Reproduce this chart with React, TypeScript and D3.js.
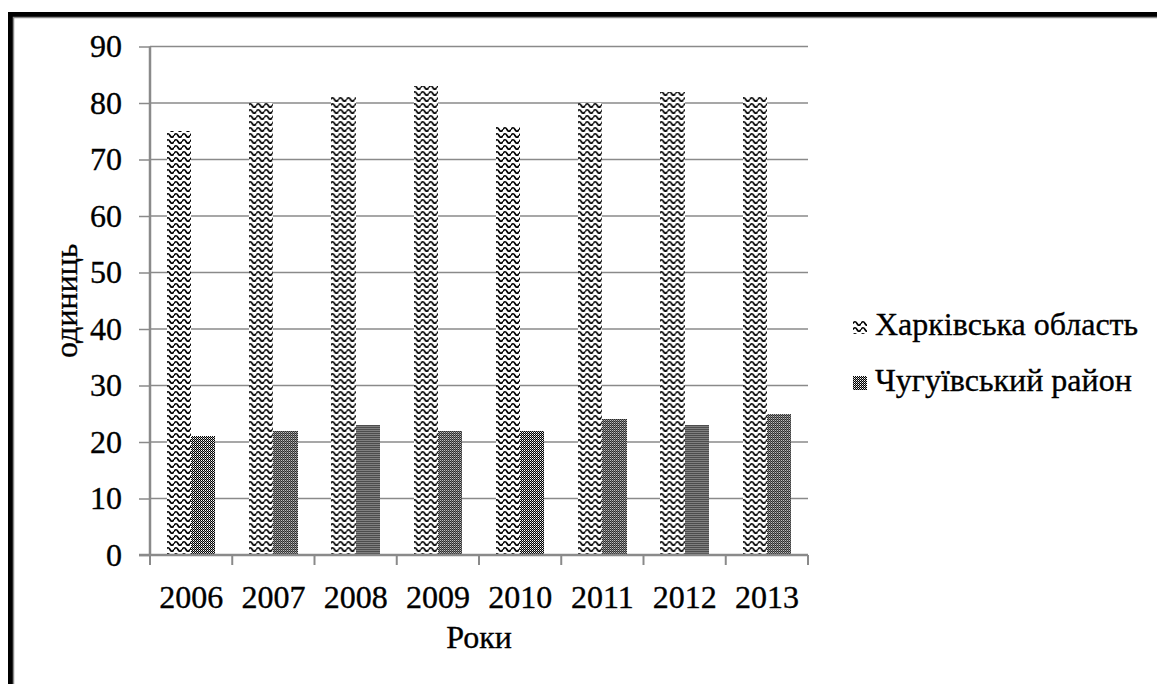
import React, { useEffect, useRef } from 'react';
import * as d3 from 'd3';

const years = ['2006', '2007', '2008', '2009', '2010', '2011', '2012', '2013'];
const seriesNames = ['Харківська область', 'Чугуївський район'];
const kharkivValues = [75, 80, 81, 83, 76, 80, 82, 81];
const chuhuivValues = [21, 22, 23, 22, 22, 24, 23, 25];
const yTicks = [0, 10, 20, 30, 40, 50, 60, 70, 80, 90];

const W = 1157;
const H = 684;
const FONT = "'Liberation Serif', 'DejaVu Serif', serif";

const App = () => {
    const ref = useRef<SVGSVGElement>(null);

    useEffect(() => {
        const margin = { top: 46.5, right: 349, bottom: 129, left: 150 };
        const svg = d3.select(ref.current);
        svg.selectAll('*').remove();

        // patterns
        const defs = svg.append('defs');
        const wave = defs.append('pattern')
            .attr('id', 'wave')
            .attr('patternUnits', 'userSpaceOnUse')
            .attr('width', 8)
            .attr('height', 6);
        wave.append('rect').attr('width', 8).attr('height', 6).attr('fill', 'white');
        wave.append('path')
            .attr('d', 'M0,3.5 Q2,0 4,3.5 T8,3.5')
            .attr('fill', 'none')
            .attr('stroke', 'black')
            .attr('stroke-width', 1.7);

        const check = defs.append('pattern')
            .attr('id', 'check')
            .attr('patternUnits', 'userSpaceOnUse')
            .attr('width', 2)
            .attr('height', 2);
        check.append('rect').attr('width', 2).attr('height', 2).attr('fill', 'black');
        check.append('rect').attr('x', 1).attr('width', 1).attr('height', 1).attr('fill', 'white');
        check.append('rect').attr('y', 1).attr('width', 1).attr('height', 1).attr('fill', '#9a9a9a');

        const fills = ['url(#wave)', 'url(#check)'];

        // frame
        svg.append('rect')
            .attr('x', 10.5).attr('y', 14.5)
            .attr('width', W + 20).attr('height', H + 20)
            .attr('fill', 'none').attr('stroke', 'black').attr('stroke-width', 5);
        svg.append('rect')
            .attr('x', 13.5).attr('y', 17.5)
            .attr('width', W + 20).attr('height', H + 20)
            .attr('fill', 'none').attr('stroke', '#8a8a8a').attr('stroke-width', 1.5);

        const x = d3.scaleBand()
            .domain(years)
            .range([margin.left, W - margin.right])
            .padding(0);

        const xs = d3.scaleBand()
            .domain(seriesNames)
            .range([0, x.bandwidth()])
            .paddingInner(0)
            .paddingOuter(0.7);

        const y = d3.scaleLinear()
            .domain([0, 90])
            .range([H - margin.bottom, margin.top]);

        // grid
        svg.append('g')
            .selectAll('line')
            .data(yTicks.filter((d) => d > 0))
            .join('line')
            .attr('x1', margin.left)
            .attr('x2', W - margin.right)
            .attr('y1', (d) => y(d))
            .attr('y2', (d) => y(d))
            .attr('stroke', '#8a8a8a')
            .attr('stroke-width', 1.5);

        // bars
        const data = years.map((yr, i) => ({ year: yr, values: [kharkivValues[i], chuhuivValues[i]] }));
        svg.append('g')
            .selectAll('g')
            .data(data)
            .join('g')
            .attr('transform', (d) => `translate(${x(d.year)},0)`)
            .selectAll('rect')
            .data((d) => d.values.map((v, k) => ({ name: seriesNames[k], v, k })))
            .join('rect')
            .attr('x', (d) => xs(d.name)!)
            .attr('width', xs.bandwidth())
            .attr('y', (d) => y(d.v))
            .attr('height', (d) => y(0) - y(d.v))
            .attr('fill', (d) => fills[d.k])
            .attr('shape-rendering', 'crispEdges');

        const textStyle = (sel: any, size: number) =>
            sel.attr('fill', 'black')
                .attr('stroke', 'black')
                .attr('stroke-width', 0.35)
                .attr('font-family', FONT)
                .attr('font-size', size);

        // y axis
        svg.append('g')
            .attr('transform', `translate(${margin.left},0)`)
            .call(d3.axisLeft(y).tickValues(yTicks).tickSize(11).tickPadding(17))
            .call((g) => g.select('.domain').attr('stroke', '#8a8a8a').attr('stroke-width', 2.5).attr('d', `M0,${y(90)}V${y(0)}`))
            .call((g) => g.selectAll('.tick line').attr('stroke', '#8a8a8a').attr('stroke-width', 1.5))
            .selectAll('text')
            .call(textStyle, 32);

        // x axis
        svg.append('g')
            .attr('transform', `translate(0,${y(0)})`)
            .call(d3.axisBottom(x).tickSize(0).tickPadding(30))
            .call((g) => g.select('.domain').attr('stroke', '#8a8a8a').attr('stroke-width', 2.5).attr('d', `M${margin.left - 11},0H${W - margin.right}`))
            .selectAll('text')
            .call(textStyle, 32);

        // x boundary ticks
        svg.append('g')
            .selectAll('line')
            .data(years.map((yr) => x(yr)!).concat([W - margin.right]))
            .join('line')
            .attr('x1', (d) => d)
            .attr('x2', (d) => d)
            .attr('y1', y(0))
            .attr('y2', y(0) + 10)
            .attr('stroke', '#8a8a8a')
            .attr('stroke-width', 2);

        // axis titles
        svg.append('text')
            .attr('x', (margin.left + W - margin.right) / 2)
            .attr('y', 648)
            .attr('text-anchor', 'middle')
            .call(textStyle, 32)
            .text('Роки');

        svg.append('text')
            .attr('transform', `translate(77,${(y(0) + y(90)) / 2}) rotate(-90)`)
            .attr('text-anchor', 'middle')
            .call(textStyle, 32)
            .text('одиниць');

        // legend
        const legend = svg.append('g')
            .selectAll('g')
            .data(seriesNames)
            .join('g')
            .attr('transform', (d, i) => `translate(853,${320 + i * 56})`);
        legend.append('rect')
            .attr('width', 14)
            .attr('height', 14)
            .attr('fill', (d, i) => fills[i]);
        legend.append('text')
            .attr('x', 22)
            .attr('y', 15)
            .call(textStyle, 32)
            .text((d) => d);
    }, []);

    return (
        <div style={{ position: 'fixed', left: 0, top: 0, background: 'white' }}>
            <svg ref={ref} width={W} height={H} style={{ display: 'block' }} />
        </div>
    );
};

export default App;
